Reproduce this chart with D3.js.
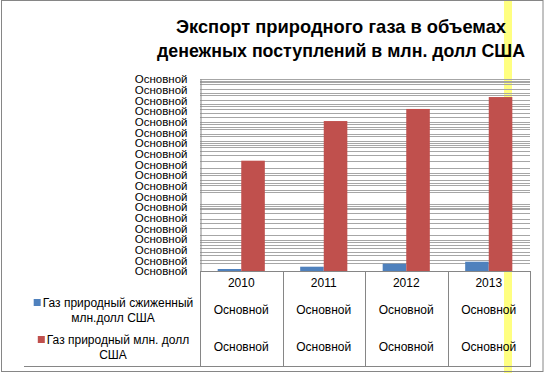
<!DOCTYPE html>
<html><head><meta charset="utf-8">
<script src="https://cdn.jsdelivr.net/npm/d3@7"></script>
<style>
html,body{margin:0;padding:0;background:#fff;}
svg{display:block;}
text{font-family:"Liberation Sans",Arial,sans-serif;}
</style></head>
<body>
<svg id="chart" width="545" height="373"></svg>
<script>
const titleLines = ["Экспорт природного газа в объемах", "денежных поступлений в млн. долл США"];
const years = ["2010", "2011", "2012", "2013"];
const seriesNames = ["Газ природный сжиженный млн.долл США", "Газ природный млн. долл США"];
const seriesLegendLines = [["Газ природный сжиженный", "млн.долл США"], ["Газ природный млн. долл", "США"]];
const lngValues = [104, 224, 380, 484];
const gasValues = [5745, 7810, 8440, 9060];
const yMax = 10000;
const yTickCount = 19;
const yTickLabel = "Основной";
const tableCellLabel = "Основной";
const gridValues = [10000, 9911, 9828, 9714, 9479, 9245, 9141, 8906, 8698, 8568, 8438, 8229, 8021,
  7760, 7656, 7526, 7396, 7135, 7031, 6771, 6667, 6563, 6458, 6250, 6042, 5729, 5365, 5104, 5000,
  4740, 4583, 4479, 4219, 4115, 3490, 3385, 3307, 3229, 2995, 2734, 2474, 2214, 1875, 1615, 1510,
  1354, 1172, 990, 833, 573, 391];
const colors = ["#4f81bd", "#c0504d"];

const svg = d3.select("#chart");
const plot = {left: 200, right: 530, top: 79, bottom: 271};
const tableBottom = 366;
const legendLeft = 24;

// yellow highlight stripe (behind everything)
svg.append("rect").attr("x", 504).attr("y", 0).attr("width", 8).attr("height", 373).attr("fill", "#ffff80");

// outer border
svg.append("rect").attr("x", 1.5).attr("y", 0.5).attr("width", 541.5).attr("height", 371)
  .attr("fill", "none").attr("stroke", "#868686").attr("stroke-width", 1);

// title
const titleX = 341;
const titleLens = [330, 368];
titleLines.forEach((t, i) => {
  svg.append("text").attr("x", titleX).attr("y", 33 + i * 24)
    .attr("text-anchor", "middle").attr("font-size", 18.5).attr("font-weight", "bold")
    .attr("textLength", titleLens[i]).attr("lengthAdjust", "spacingAndGlyphs")
    .text(t);
});

const x0 = d3.scaleBand().domain(years).range([plot.left, plot.right]).padding(0);
const x1 = d3.scaleBand().domain([0, 1]).range([0, x0.bandwidth()]).paddingInner(0).paddingOuter(0.75);
const y = d3.scaleLinear().domain([0, yMax]).range([plot.bottom, plot.top]);

// gridlines
svg.append("g").selectAll("line").data(gridValues).join("line")
  .attr("x1", plot.left).attr("x2", plot.right)
  .attr("y1", d => Math.round(y(d)) + 0.5).attr("y2", d => Math.round(y(d)) + 0.5)
  .attr("stroke", "#a6a6a6").attr("stroke-width", 1);

// bars
const seriesData = [lngValues, gasValues];
seriesData.forEach((vals, si) => {
  svg.append("g").selectAll("rect").data(vals).join("rect")
    .attr("x", (d, i) => x0(years[i]) + x1(si))
    .attr("width", x1.bandwidth())
    .attr("y", d => y(d))
    .attr("height", d => y(0) - y(d))
    .attr("fill", colors[si]);
});

// y axis
const yTicks = d3.range(yTickCount).map(i => i * yMax / (yTickCount - 1));
const yAxis = svg.append("g").attr("transform", `translate(${plot.left + 0.5},0)`)
  .call(d3.axisLeft(y).tickValues(yTicks).tickFormat(() => yTickLabel).tickSize(0).tickPadding(13));
yAxis.select(".domain").attr("stroke", "#868686");
yAxis.selectAll("text").attr("font-size", 11.5).attr("fill", "#000")
  .attr("font-family", "Liberation Sans, Arial, sans-serif");

// data table
const tbl = svg.append("g");
tbl.append("line").attr("x1", plot.left).attr("x2", plot.right)
  .attr("y1", plot.bottom + 0.5).attr("y2", plot.bottom + 0.5).attr("stroke", "#868686");
tbl.append("line").attr("x1", legendLeft).attr("x2", plot.right)
  .attr("y1", tableBottom + 0.5).attr("y2", tableBottom + 0.5).attr("stroke", "#868686");
const seps = years.map(yr => x0(yr)).concat([plot.right]);
tbl.selectAll("line.sep").data(seps).join("line").attr("class", "sep")
  .attr("x1", d => Math.round(d) + 0.5).attr("x2", d => Math.round(d) + 0.5)
  .attr("y1", plot.bottom).attr("y2", tableBottom + 1).attr("stroke", "#868686");

tbl.selectAll("text.year").data(years).join("text").attr("class", "year")
  .attr("x", d => x0(d) + x0.bandwidth() / 2).attr("y", 287)
  .attr("text-anchor", "middle").attr("font-size", 12).text(d => d);

const rowY = [314, 351];
rowY.forEach(ry => {
  tbl.append("g").selectAll("text").data(years).join("text")
    .attr("x", d => x0(d) + x0.bandwidth() / 2).attr("y", ry)
    .attr("text-anchor", "middle").attr("font-size", 12).text(tableCellLabel);
});

// legend inside table
const legendCenter = 113;
const legendRows = [{sq: 299, l1: 307, l2: 322}, {sq: 336, l1: 344, l2: 359}];
seriesLegendLines.forEach((lines, si) => {
  const r = legendRows[si];
  const t1 = tbl.append("text").attr("x", legendCenter + 5).attr("y", r.l1)
    .attr("text-anchor", "middle").attr("font-size", 12).text(lines[0]);
  const bb = t1.node().getBBox();
  tbl.append("rect").attr("x", bb.x - 9).attr("y", r.sq).attr("width", 7).attr("height", 7)
    .attr("fill", colors[si]);
  tbl.append("text").attr("x", legendCenter).attr("y", r.l2)
    .attr("text-anchor", "middle").attr("font-size", 12).text(lines[1]);
});
</script>
</body></html>
